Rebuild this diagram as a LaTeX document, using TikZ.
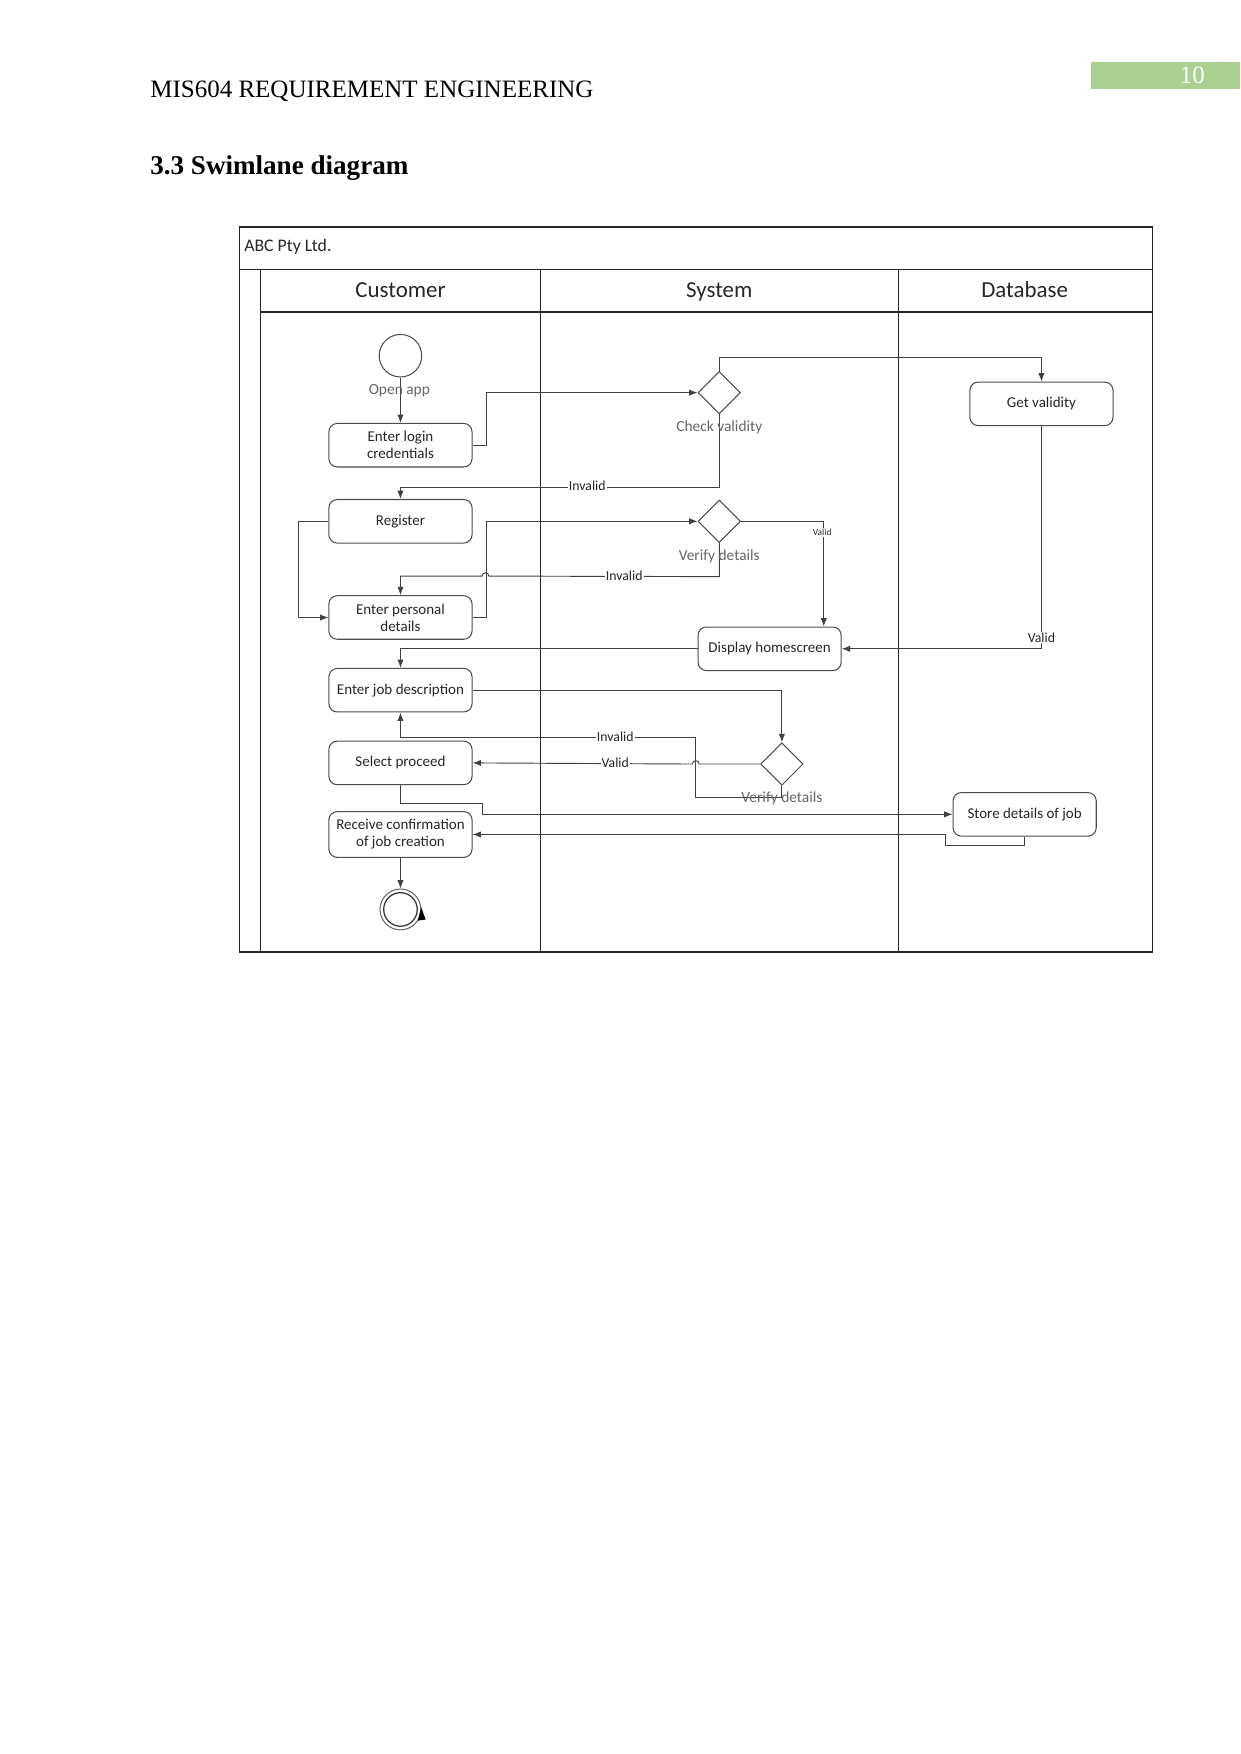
\documentclass[tikz,border=0pt]{standalone}
\usepackage{fontspec}
\setmainfont{Liberation Serif}
\newfontfamily\diag{Carlito}
\usetikzlibrary{arrows.meta,shapes.geometric,calc}
\definecolor{pagegreen}{RGB}{169,208,142}
\begin{document}
\begin{tikzpicture}[x=0.53679pt,y=-0.53679pt,
 act/.style={draw=black!70, rounded corners=4pt, minimum width=68.7pt, minimum height=20.9pt,
   font=\diag\fontsize{7.2}{8.2}\selectfont, align=center, inner sep=1pt, line width=0.5pt, text=black!85},
 dec/.style={draw=black!70, diamond, minimum width=20.4pt, minimum height=20.4pt, inner sep=0pt, line width=0.5pt},
 flow/.style={draw=black!75, line width=0.45pt, -{Latex[length=4pt,width=3pt]}},
 lane/.style={draw=black!85, line width=0.6pt},
 lbl/.style={font=\diag\fontsize{6.6}{7}\selectfont, fill=white, inner sep=0.5pt, text=black!85},
 glbl/.style={font=\diag\fontsize{7.4}{8}\selectfont, text=black!60, inner sep=0pt},
 lanehead/.style={font=\diag\fontsize{11}{13}\selectfont, text=black!85, anchor=base, inner sep=0pt},
]
\useasboundingbox (0,0) rectangle (1109,1568);

% page header
\node[fill=pagegreen, minimum width=71.4pt, minimum height=12.9pt, inner sep=0pt, anchor=north west] (pg) at (975,55) {};
\node[text=white, font=\fontsize{12}{12}\selectfont, inner sep=0pt] (pgn) at (1066,67) {10};
\node[anchor=base west, font=\fontsize{12}{14}\selectfont, inner sep=0pt] (hdr) at (134,87) {MIS604 REQUIREMENT ENGINEERING};
\node[anchor=base west, font=\bfseries\fontsize{13}{15}\selectfont, inner sep=0pt] (sec) at (134,156) {3.3 Swimlane diagram};

% pool and lanes
\draw[lane] (214,203) rectangle (1030,851);
\draw[lane] (214,241) -- (1030,241);
\draw[lane] (233,241) -- (233,851);
\draw[lane] (483,241) -- (483,851);
\draw[lane] (803,241) -- (803,851);
\draw[lane] (233,279) -- (1030,279);
\node[anchor=west, font=\diag\fontsize{8.5}{10}\selectfont, inner sep=0pt, text=black!85] (pool) at (218,221) {ABC Pty Ltd.};
\node[lanehead] (l1) at (358,266) {Customer};
\node[lanehead] (l2) at (643,266) {System};
\node[lanehead] (l3) at (916,266) {Database};

% nodes
\node[circle, draw=black!70, line width=0.5pt, minimum size=20.4pt, inner sep=0pt] (st) at (358,318) {};
\node[act] (elc) at (358,398) {Enter login\\credentials};
\node[dec] (cv) at (643,351) {};
\node[act] (gv) at (931,361) {Get validity};
\node[act] (reg) at (358,466) {Register};
\node[dec] (vd1) at (643,466) {};
\node[act] (epd) at (358,552) {Enter personal\\details};
\node[act] (dh) at (688,580) {Display homescreen};
\node[act] (ejd) at (358,617) {Enter job description};
\node[act] (sp) at (358,682) {Select proceed};
\node[dec] (vd2) at (699,683) {};
\node[act, minimum height=22pt] (rc) at (358,746) {Receive confirmation\\of job creation};
\node[act] (sd) at (916,728) {Store details of job};
\node[circle, draw=black!60, line width=0.5pt, minimum size=19.6pt, inner sep=0pt] (en) at (358,813) {};
\draw[black!80, line width=0.6pt] (en.center) circle (15);

% connectors
\draw[flow] (st.south) -- (elc.north);
\draw[flow] (elc.east) -- ++(12,0) |- (cv.west);
\draw[flow] (cv.north) -- ++(0,-12) -| (gv.north);
\draw[flow] (cv.south) -- ++(0,65) -| (reg.north);
\draw[flow] (gv.south) |- (dh.east);
\draw[flow] (reg.west) -- ++(-27,0) |- (epd.west);
\draw[flow] (epd.east) -- ++(12,0) |- (vd1.west);
\draw[flow] (vd1.south) -- ++(0,30) -- (437,515) arc[start angle=0, end angle=-180, radius=3] -| (epd.north);
\draw[flow] (vd1.east) -| ([xshift=-8.6pt]dh.north east);
\draw[flow] (dh.west) -| (ejd.north);
\draw[flow] (ejd.east) -| (vd2.north);
\draw[flow] (vd2.south) |- (622,713) -- (622,659) -| (ejd.south);
\draw[flow] (vd2.west) -- (625,683) arc[start angle=0, end angle=-180, radius=3] -- (sp.east);
\draw[flow] (sp.south) |- (431,718) |- (sd.west);
\draw[flow] (sd.south) |- (845,756) |- (rc.east);
\draw[flow] (rc.south) -- (en.north);
\fill[black] (376.5,811) -- (380.5,822) -- (373.5,823) -- cycle;

% labels
\node[glbl] (t1) at (357,349) {Open app};
\node[glbl] (t2) at (643,382) {Check validity};
\node[glbl] (t3) at (643,497) {Verify details};
\node[glbl] (t4) at (699,714) {Verify details};
\node[lbl] (t5) at (525,434) {Invalid};
\node[lbl] (t6) at (558,515) {Invalid};
\node[lbl, font=\diag\fontsize{4.5}{5}\selectfont] (t7) at (735,476) {Valid};
\node[lbl] (t8) at (931,570) {Valid};
\node[lbl] (t9) at (550,659) {Invalid};
\node[lbl] (t10) at (550,682) {Valid};
\end{tikzpicture}
\end{document}
